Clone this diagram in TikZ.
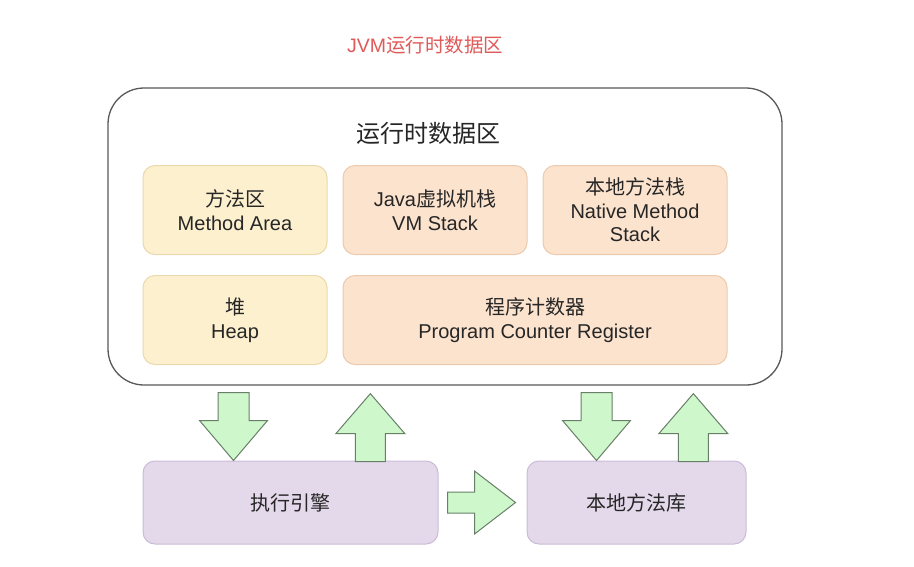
\documentclass[tikz,border=0pt]{standalone}
\usepackage{fontspec}
\setmainfont{Liberation Sans}
\newfontfamily\cjk{Noto Sans CJK SC}
\usetikzlibrary{calc}
\definecolor{txt}{HTML}{262626}
\definecolor{yfill}{HTML}{FDF0CF}
\definecolor{ydraw}{HTML}{EBD9AE}
\definecolor{ofill}{HTML}{FCE3CE}
\definecolor{odraw}{HTML}{EBCAAE}
\definecolor{pfill}{HTML}{E4D8EB}
\definecolor{pdraw}{HTML}{CBBCD6}
\definecolor{gfill}{HTML}{CFF7CC}
\definecolor{gdraw}{HTML}{687F68}
\definecolor{redt}{HTML}{E05A5A}
\tikzset{
  every node/.style={text=txt},
  lbl/.style={font=\fontsize{20}{23.5}\selectfont, align=center},
  ybox/.style={rectangle, rounded corners=12pt, draw=ydraw, fill=yfill, line width=1pt, lbl},
  obox/.style={rectangle, rounded corners=12pt, draw=odraw, fill=ofill, line width=1pt, lbl},
  pbox/.style={rectangle, rounded corners=12pt, draw=pdraw, fill=pfill, line width=1pt, lbl},
  garrow/.style={draw=gdraw, fill=gfill, line width=1pt, line join=miter},
  downarr/.pic={\draw[garrow] (-15.5,-68) -- (15.5,-68) -- (15.5,-40) -- (34,-40) -- (0,0) -- (-34,-40) -- (-15.5,-40) -- cycle;},
  uparr/.pic={\draw[garrow] (-15,68) -- (15,68) -- (15,40) -- (34.5,40) -- (0,0) -- (-34.5,40) -- (-15,40) -- cycle;},
  rightarr/.pic={\draw[garrow] (-68,-10.5) -- (-41,-10.5) -- (-41,-31.5) -- (0,0) -- (-41,31.5) -- (-41,10.5) -- (-68,10.5) -- cycle;}
}
\begin{document}
\begin{tikzpicture}[x=1pt,y=-1pt]
\useasboundingbox (0,0) rectangle (914,566);
\fill[white] (0,0) rectangle (914,566);

\node[text=redt, font=\fontsize{19.5}{21}\selectfont] (title) at (425,45) {JVM\cjk 运行时数据区};

\node[draw=black!65, line width=1.3pt, fill=white, rounded corners=36pt, minimum width=674pt, minimum height=297pt, inner sep=0pt] (outer) at (445,236.5) {};
\node[font=\cjk\fontsize{24}{26}\selectfont] (otitle) at (428,133) {运行时数据区};

\node[ybox, minimum width=184pt, minimum height=89pt] (ma) at (235,210) {{\cjk 方法区}\\Method Area};
\node[obox, minimum width=184pt, minimum height=89pt] (vms) at (435,210) {Java{\cjk 虚拟机栈}\\VM Stack};
\node[obox, minimum width=184pt, minimum height=89pt] (nms) at (635,210) {{\cjk 本地方法栈}\\Native Method\\Stack};
\node[ybox, minimum width=184pt, minimum height=89pt] (heap) at (235,320) {{\cjk 堆}\\Heap};
\node[obox, minimum width=384pt, minimum height=89pt] (pc) at (535,320) {{\cjk 程序计数器}\\Program Counter Register};

\node[pbox, minimum width=295pt, minimum height=83pt, font=\cjk\fontsize{20}{23}\selectfont] (exec) at (290.5,502.5) {执行引擎};
\node[pbox, minimum width=219pt, minimum height=83pt, font=\cjk\fontsize{20}{23}\selectfont] (lib) at (636.5,502.5) {本地方法库};

\pic at ($(exec.north west)+(91,0)$) {downarr};
\pic at ($(outer.south west)+(263,8)$) {uparr};
\pic at ($(lib.west)+(-11,0)$) {rightarr};
\pic at ($(lib.north west)+(70,0)$) {downarr};
\pic at ($(outer.south west)+(586,8)$) {uparr};
\end{tikzpicture}
\end{document}
